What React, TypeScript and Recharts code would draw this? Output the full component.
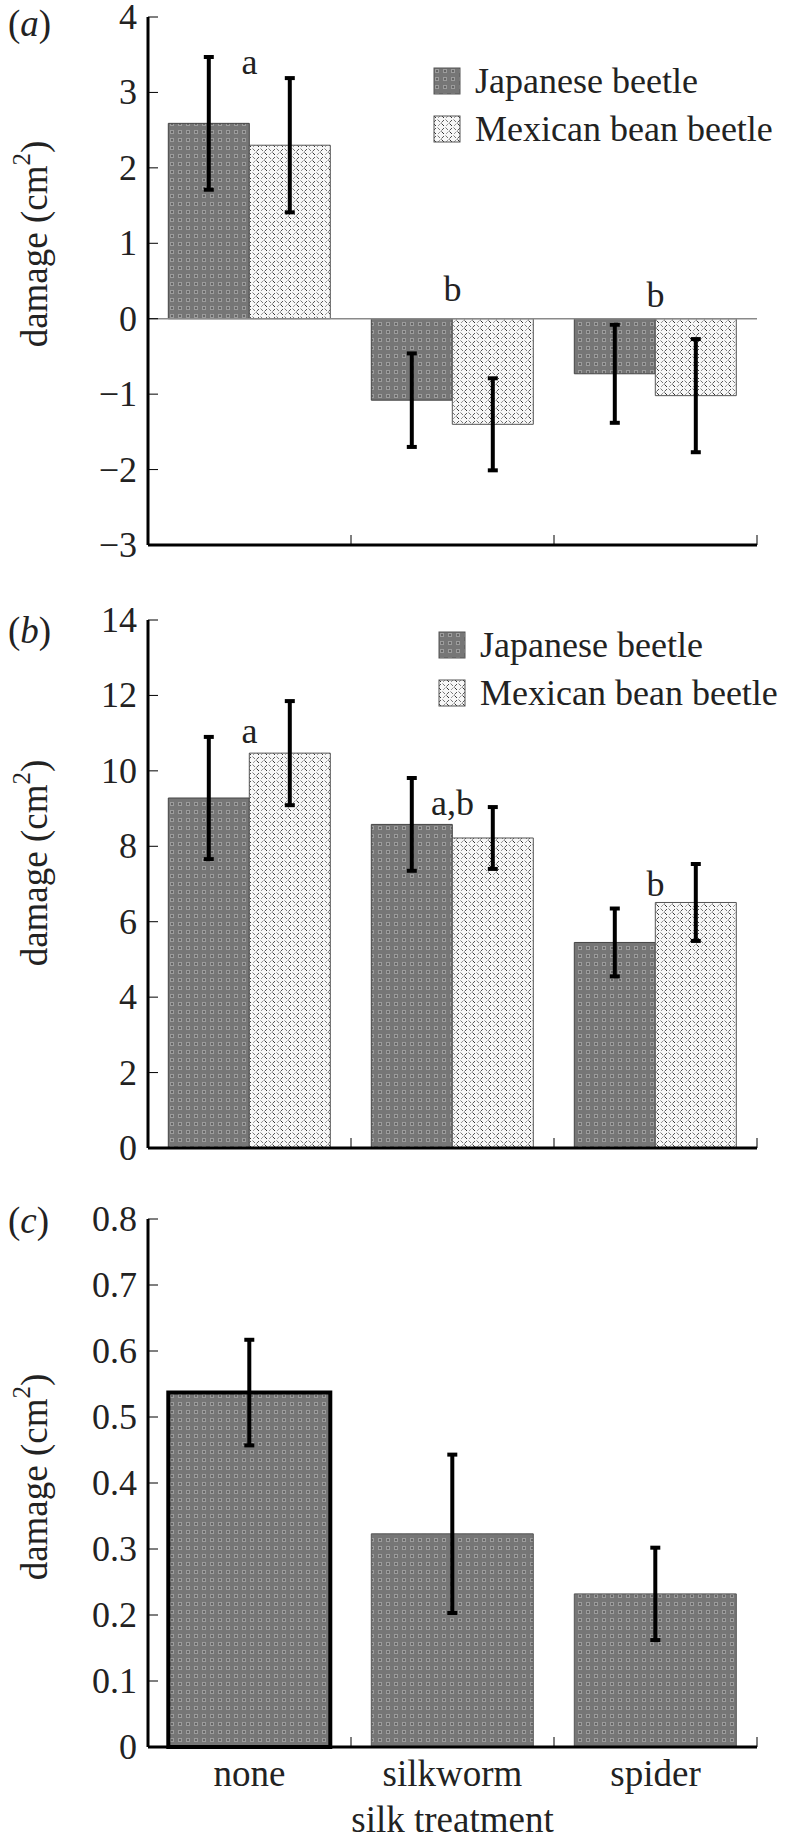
import { BarChart, Bar, XAxis, YAxis, ErrorBar, Cell, Legend, ReferenceLine, ReferenceDot } from "recharts";

const categories = ["none", "silkworm", "spider"];
const seriesNames = ["Japanese beetle", "Mexican bean beetle"];

// (a)
const japA = [2.59, -1.08, -0.73];
const japAErr = [0.88, 0.62, 0.65];
const mexA = [2.3, -1.4, -1.02];
const mexAErr = [0.89, 0.61, 0.75];
const lettersA = ["a", "b", "b"];
const lettersAY = [3.42, 0.41, 0.32];
const ticksA = [-3, -2, -1, 0, 1, 2, 3, 4];

// (b)
const japB = [9.28, 8.58, 5.45];
const japBErr = [1.62, 1.23, 0.9];
const mexB = [10.47, 8.22, 6.51];
const mexBErr = [1.38, 0.82, 1.02];
const lettersB = ["a", "a,b", "b"];
const lettersBY = [11.09, 9.18, 7.03];
const ticksB = [0, 2, 4, 6, 8, 10, 12, 14];

// (c)
const silkC = [0.537, 0.323, 0.232];
const silkCErr = [0.08, 0.12, 0.07];
const ticksC = [0, 0.1, 0.2, 0.3, 0.4, 0.5, 0.6, 0.7, 0.8];

const FONT = "'Liberation Serif', 'Times New Roman', serif";
const INK = "#222";
const W = 786;
const serif = { fontFamily: FONT };

const dataA = categories.map((c, i) => ({ name: c, jap: japA[i], japErr: japAErr[i], mex: mexA[i], mexErr: mexAErr[i] }));
const dataB = categories.map((c, i) => ({ name: c, jap: japB[i], japErr: japBErr[i], mex: mexB[i], mexErr: mexBErr[i] }));
const dataC = categories.map((c, i) => ({ name: c, damage: silkC[i], err: silkCErr[i] }));

const fmt = (v: number) => (v < 0 ? `\u2212${Math.abs(v)}` : `${v}`);

function YTick({ x, y, payload }: any) {
  return (
    <text x={x} y={y} textAnchor="end" dominantBaseline="central" fontSize={36} style={serif} fill={INK}>
      {fmt(payload.value)}
    </text>
  );
}

// category tick: boundary tick mark on the axis + optional label under the bar group
function makeXTick(showLabel: boolean) {
  return ({ x, y, payload, index }: any) => {
    const half = payload.offset ?? 101.5;
    return (
      <g>
        <line x1={x + half} x2={x + half} y1={y} y2={y - 10} stroke="#000" strokeWidth={1} />
        {showLabel && (
          <text x={x} y={y + 39} textAnchor="middle" fontSize={37} style={serif} fill={INK}>
            {payload.value}
          </text>
        )}
      </g>
    );
  };
}

function yLabel(shift: number) {
  return (props: any) => {
    const vb = props.viewBox || {};
    const cx = 34;
    const cy = (vb.y ?? 0) + (vb.height ?? 0) / 2 + shift;
    return (
      <text
        x={cx}
        y={cy}
        transform={`rotate(-90 ${cx} ${cy})`}
        textAnchor="middle"
        dominantBaseline="central"
        fontSize={37}
        style={serif}
        fill={INK}
      >
        damage (cm<tspan dy={-13} fontSize={25}>2</tspan>
        <tspan dy={13}>)</tspan>
      </text>
    );
  };
}

function xLabel(props: any) {
  const vb = props.viewBox || {};
  return (
    <text x={(vb.x ?? 0) + (vb.width ?? 0) / 2} y={(vb.y ?? 0) + (vb.height ?? 0) - 11} textAnchor="middle" fontSize={37} style={serif} fill={INK}>
      silk treatment
    </text>
  );
}

function LegendBox({ payload }: any) {
  return (
    <div style={{ fontFamily: FONT, fontSize: 36, color: INK }}>
      {(payload || []).map((p: any) => (
        <div key={p.value} style={{ display: "flex", alignItems: "center", height: 48, whiteSpace: "nowrap" }}>
          <svg width={28} height={28} style={{ marginRight: 14 }}>
            <rect x={1} y={1} width={26} height={26} fill={p.color} stroke="#555" strokeWidth={1} />
          </svg>
          <span>{p.value}</span>
        </div>
      ))}
    </div>
  );
}

const yAxisProps = {
  width: 148,
  interval: 0 as const,
  tickSize: -10,
  tickMargin: 21,
  axisLine: { stroke: "#000", strokeWidth: 3 },
  tickLine: { stroke: "#000", strokeWidth: 1 },
  tick: <YTick />,
};

const letterLabel = (value: string) => ({ value, position: "center" as const, fontSize: 36, fill: INK, style: serif });

function PanelLabel({ letter, top }: { letter: string; top: number }) {
  return (
    <div style={{ position: "absolute", left: 8, top, fontFamily: FONT, fontSize: 37, color: INK, lineHeight: "40px" }}>
      (<i>{letter}</i>)
    </div>
  );
}

export default function App() {
  return (
    <div style={{ position: "absolute", left: 0, top: 0, width: W, height: 1843, background: "#fff", fontFamily: FONT }}>
      <svg width={0} height={0} style={{ position: "absolute" }}>
        <defs>
          <pattern id="patJap" width={8} height={8} patternUnits="userSpaceOnUse">
            <rect width={8} height={8} fill="#767676" />
            <rect x={2} y={2} width={4} height={4} fill="#9c9c9c" />
            <rect x={3} y={3} width={2} height={2} fill="#666" />
          </pattern>
          <pattern id="patMex" width={8} height={8} patternUnits="userSpaceOnUse">
            <rect width={8} height={8} fill="#f7f7f7" />
            <path d="M0.5 0.5 L3 3" stroke="#333" strokeWidth={1} />
            <path d="M4.5 4.5 L7 7" stroke="#777" strokeWidth={1} />
            <path d="M5 3 L7.5 0.5" stroke="#999" strokeWidth={1} />
            <path d="M0.5 7.5 L3 5" stroke="#555" strokeWidth={1} />
          </pattern>
        </defs>
      </svg>

      {/* (a) */}
      <div style={{ position: "absolute", left: 0, top: 0 }}>
        <BarChart width={W} height={560} data={dataA} margin={{ top: 17, right: 29, bottom: 0, left: 0 }} barCategoryGap="10%" barGap={0}>
          <XAxis
            dataKey="name"
            height={15}
            interval={0}
            tickLine={false}
            tickSize={0}
            tickMargin={0}
            axisLine={{ stroke: "#000", strokeWidth: 3 }}
            tick={makeXTick(false)}
          />
          <YAxis {...yAxisProps} domain={[-3, 4]} ticks={ticksA} label={{ content: yLabel(-37) }} />
          <ReferenceLine y={0} stroke="#8a8a8a" strokeWidth={1.5} />
          <Legend
            layout="vertical"
            align="center"
            verticalAlign="middle"
            width={350}
            wrapperStyle={{ top: 57, left: 433 }}
            content={LegendBox}
          />
          <Bar dataKey="jap" name={seriesNames[0]} fill="url(#patJap)" stroke="#444" strokeWidth={1} isAnimationActive={false}>
            <ErrorBar dataKey="japErr" width={5} strokeWidth={4} stroke="#000" />
          </Bar>
          <Bar dataKey="mex" name={seriesNames[1]} fill="url(#patMex)" stroke="#555" strokeWidth={1} isAnimationActive={false}>
            <ErrorBar dataKey="mexErr" width={5} strokeWidth={4} stroke="#000" />
          </Bar>
          {categories.map((c, i) => (
            <ReferenceDot key={c} x={c} y={lettersAY[i]} r={1} fill="none" stroke="none" label={letterLabel(lettersA[i])} />
          ))}
        </BarChart>
      </div>
      <PanelLabel letter="a" top={4} />

      {/* (b) */}
      <div style={{ position: "absolute", left: 0, top: 560 }}>
        <BarChart width={W} height={600} data={dataB} margin={{ top: 60, right: 29, bottom: 0, left: 0 }} barCategoryGap="10%" barGap={0}>
          <XAxis
            dataKey="name"
            height={12}
            interval={0}
            tickLine={false}
            tickSize={0}
            tickMargin={0}
            axisLine={{ stroke: "#000", strokeWidth: 3 }}
            tick={makeXTick(false)}
          />
          <YAxis {...yAxisProps} domain={[0, 14]} ticks={ticksB} label={{ content: yLabel(-21) }} />
          <Legend
            layout="vertical"
            align="center"
            verticalAlign="middle"
            width={350}
            wrapperStyle={{ top: 61, left: 438 }}
            content={LegendBox}
          />
          <Bar dataKey="jap" name={seriesNames[0]} fill="url(#patJap)" stroke="#444" strokeWidth={1} isAnimationActive={false}>
            <ErrorBar dataKey="japErr" width={5} strokeWidth={4} stroke="#000" />
          </Bar>
          <Bar dataKey="mex" name={seriesNames[1]} fill="url(#patMex)" stroke="#555" strokeWidth={1} isAnimationActive={false}>
            <ErrorBar dataKey="mexErr" width={5} strokeWidth={4} stroke="#000" />
          </Bar>
          {categories.map((c, i) => (
            <ReferenceDot key={c} x={c} y={lettersBY[i]} r={1} fill="none" stroke="none" label={letterLabel(lettersB[i])} />
          ))}
        </BarChart>
      </div>
      <PanelLabel letter="b" top={611} />

      {/* (c) */}
      <div style={{ position: "absolute", left: 0, top: 1160 }}>
        <BarChart width={W} height={683} data={dataC} margin={{ top: 59, right: 29, bottom: 0, left: 0 }} barCategoryGap="10%" barGap={0}>
          <XAxis
            dataKey="name"
            height={96}
            interval={0}
            tickLine={false}
            tickSize={0}
            tickMargin={0}
            axisLine={{ stroke: "#000", strokeWidth: 3 }}
            tick={makeXTick(true)}
            label={{ content: xLabel }}
          />
          <YAxis {...yAxisProps} domain={[0, 0.8]} ticks={ticksC} label={{ content: yLabel(-6) }} />
          <Bar dataKey="damage" fill="url(#patJap)" isAnimationActive={false}>
            {dataC.map((d, i) => (
              <Cell key={d.name} stroke={i === 0 ? "#000" : "#555"} strokeWidth={i === 0 ? 4 : 1} />
            ))}
            <ErrorBar dataKey="err" width={5} strokeWidth={4} stroke="#000" />
          </Bar>
        </BarChart>
      </div>
      <PanelLabel letter="c" top={1201} />
    </div>
  );
}
